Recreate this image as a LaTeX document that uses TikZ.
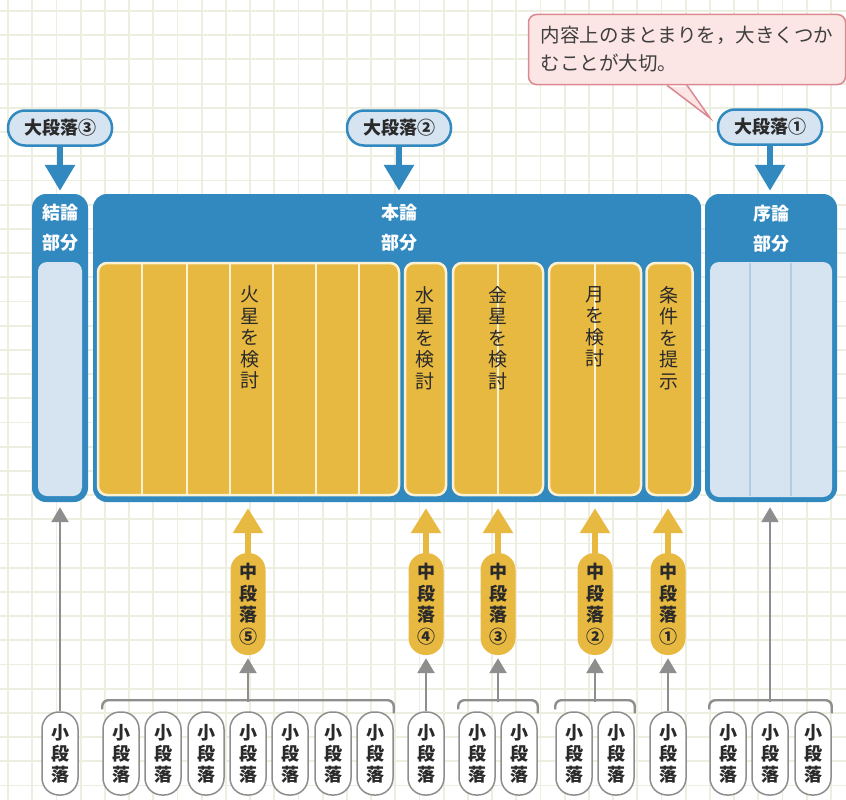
\documentclass[tikz,border=0pt]{standalone}
\usepackage{fontspec}
\newfontfamily\jp{Noto Sans CJK JP}
\usetikzlibrary{arrows.meta}
\definecolor{bluebox}{HTML}{3189BF}
\definecolor{paleblue}{HTML}{D6E3F0}
\definecolor{paleline}{HTML}{B3CCE4}
\definecolor{yel}{HTML}{E8B940}
\definecolor{cream}{HTML}{FBF1D4}
\definecolor{grayl}{HTML}{8E8E8E}
\definecolor{gridc}{HTML}{ECEFDF}
\definecolor{pinkf}{HTML}{FCE5E5}
\definecolor{pinkd}{HTML}{DB8891}
\definecolor{txt}{HTML}{2A2A2A}
\tikzset{
  box/.style={rectangle, rounded corners=14pt, fill=bluebox, inner sep=0pt},
  hdr/.style={font=\jp\bfseries\fontsize{18}{30}\selectfont, text=white, align=center, inner sep=0pt},
  inpanel/.style={rectangle, rounded corners=9pt, fill=paleblue, inner sep=0pt},
  ypanel/.style={rectangle, rounded corners=9pt, fill=yel, draw=cream, line width=2.5pt, inner sep=0pt, minimum height=232pt},
  ytext/.style={font=\jp\fontsize{19}{21.5}\selectfont, text=txt, align=center, anchor=north, inner sep=0pt},
  bigpill/.style={rectangle, rounded corners=17pt, fill=paleblue, draw=bluebox, line width=2.5pt, minimum width=104pt, minimum height=35pt, font=\jp\bfseries\fontsize{18}{20}\selectfont, text=txt, inner sep=0pt},
  midpill/.style={rectangle, rounded corners=17pt, fill=yel, minimum width=35pt, minimum height=102pt, font=\jp\bfseries\fontsize{18}{21.5}\selectfont, align=center, text=txt, inner sep=0pt},
  smallpill/.style={rectangle, rounded corners=17pt, fill=white, draw=grayl, line width=1.5pt, minimum width=36pt, minimum height=83pt, font=\jp\bfseries\fontsize{18}{21}\selectfont, align=center, text=txt, inner sep=0pt},
  bluearrow/.style={draw=bluebox, line width=6pt, -{Triangle[length=26pt,width=29pt]}},
  yarrow/.style={draw=yel, line width=6pt, -{Triangle[length=25pt,width=29pt]}},
  garrow/.style={draw=grayl, line width=2.4pt, -{Triangle[length=15pt,width=17pt]}},
  gline/.style={draw=grayl, line width=2.4pt, rounded corners=6pt},
  divY/.style={draw=cream, line width=1.2pt},
  divB/.style={draw=paleline, line width=1.2pt},
  callout/.style={rectangle, rounded corners=8pt, fill=pinkf, draw=pinkd, line width=1.5pt, minimum width=317pt, minimum height=70pt, text width=293pt, align=left, inner xsep=12pt, font=\jp\fontsize{19.5}{28}\selectfont, text=txt!90}
}
\begin{document}
\begin{tikzpicture}[x=1pt,y=-1pt]
\useasboundingbox (0,0) rectangle (846,800);
\fill[white] (0,0) rectangle (846,800);
% grid
\foreach \i in {0,...,34} \draw[gridc, line width=1.8pt] ({8+24.2*\i},0) -- ({8+24.2*\i},800);
\foreach \j in {0,...,32} \draw[gridc, line width=1.8pt] (0,{11+24.2*\j}) -- (846,{11+24.2*\j});

% blue boxes
\node[box, minimum width=56pt, minimum height=308pt] (ketsu) at (60,348) {};
\node[box, minimum width=608pt, minimum height=308pt] (honron) at (397,348) {};
\node[box, minimum width=132pt, minimum height=308pt] (joron) at (771,348) {};
\node[hdr] (ketsuH) at (60,228) {結論\\部分};
\node[hdr] (honronH) at (399,228) {本論\\部分};
\node[hdr] (joronH) at (771,229) {序論\\部分};

% inner panels
\node[inpanel, minimum width=44pt, minimum height=234pt] (ketsuP) at (60,379) {};
\node[inpanel, minimum width=122pt, minimum height=235pt] (joronP) at (771,379.5) {};
\draw[divB] (750,263) -- (750,496);
\draw[divB] (791,263) -- (791,496);

% yellow panels
\node[ypanel, minimum width=301pt] (kasei) at (248.5,379) {};
\node[ypanel, minimum width=41pt] (sui) at (425.5,379) {};
\node[ypanel, minimum width=90pt] (kin) at (498,379) {};
\node[ypanel, minimum width=92pt] (tsuki) at (595,379) {};
\node[ypanel, minimum width=46pt] (joken) at (669.5,379) {};
\foreach \x in {142,187,230,273,316,359} \draw[divY] (\x,264) -- (\x,494);
\draw[divY] (498,264) -- (498,494);
\draw[divY] (595,264) -- (595,494);

\node[ytext] (kaseiT) at (250,286) {火\\星\\を\\検\\討};
\node[ytext] (suiT) at (425,286) {水\\星\\を\\検\\討};
\node[ytext] (kinT) at (498,286) {金\\星\\を\\検\\討};
\node[ytext] (tsukiT) at (595,286) {月\\を\\検\\討};
\node[ytext] (jokenT) at (669,286) {条\\件\\を\\提\\示};

% big paragraph labels
\node[bigpill] (L3) at (60,128) {大段落③};
\node[bigpill] (L2) at (399,128) {大段落②};
\node[bigpill] (L1) at (770,127) {大段落①};
\draw[bluearrow, shorten >=3pt] (L3.south) -- (L3.south |- ketsu.north);
\draw[bluearrow, shorten >=3pt] (L2.south) -- (L2.south |- honron.north);
\draw[bluearrow, shorten >=3pt] (L1.south) -- (L1.south |- joron.north);

% middle paragraphs
\node[midpill] (M5) at (248,604) {中\\段\\落\\⑤};
\node[midpill] (M4) at (426,604) {中\\段\\落\\④};
\node[midpill] (M3) at (498,604) {中\\段\\落\\③};
\node[midpill] (M2) at (595,604) {中\\段\\落\\②};
\node[midpill] (M1) at (668,604) {中\\段\\落\\①};
\foreach \m in {M5,M4,M3,M2,M1}
  \draw[yarrow, shorten >=6pt] (\m.north) -- (\m.north |- honron.south);

% small paragraphs
\foreach \x/\n in {60/S0,121/S1,163/S2,206/S3,248/S4,290/S5,333/S6,375/S7,426/S8,477/S9,519/S10,574/S11,616/S12,668/S13,728/S14,770/S15,813/S16}
  \node[smallpill] (\n) at (\x,753.5) {小\\段\\落};

% braces
\draw[gline] (S1.north west) ++(0,-2) -- ++(0,-9) -| ([yshift=-2pt]S7.north east);
\draw[gline] (S9.north west) ++(0,-2) -- ++(0,-9) -| ([yshift=-2pt]S10.north east);
\draw[gline] (S11.north west) ++(0,-2) -- ++(0,-9) -| ([yshift=-2pt]S12.north east);
\draw[gline] (S14.north west) ++(0,-2) -- ++(0,-9) -| ([yshift=-2pt]S16.north east);
\coordinate (B5) at (248,701.5);
\coordinate (B3) at (498,701.5);
\coordinate (B2) at (595,701.5);
\coordinate (B0) at (770,701.5);

% gray arrows
\draw[garrow, shorten >=5pt] (S0.north) -- (S0.north |- ketsu.south);
\draw[garrow, shorten >=3pt] (B5) -- (B5 |- M5.south);
\draw[garrow, shorten >=3pt] (S8.north) -- (S8.north |- M4.south);
\draw[garrow, shorten >=3pt] (B3) -- (B3 |- M3.south);
\draw[garrow, shorten >=3pt] (B2) -- (B2 |- M2.south);
\draw[garrow, shorten >=3pt] (S13.north) -- (S13.north |- M1.south);
\draw[garrow, shorten >=5pt] (B0) -- (B0 |- joron.south);

% callout
\node[callout] (note) at (687,49.5) {内容上のまとまりを，大きくつか\\むことが大切。};
\fill[pinkf] ([xshift=-20pt,yshift=-1.5pt]note.south) -- (710,118) -- ([yshift=-1.5pt]note.south) -- cycle;
\draw[pinkd, line width=1.5pt] ([xshift=-20pt]note.south) -- (710,118) -- (note.south);
\end{tikzpicture}
\end{document}
